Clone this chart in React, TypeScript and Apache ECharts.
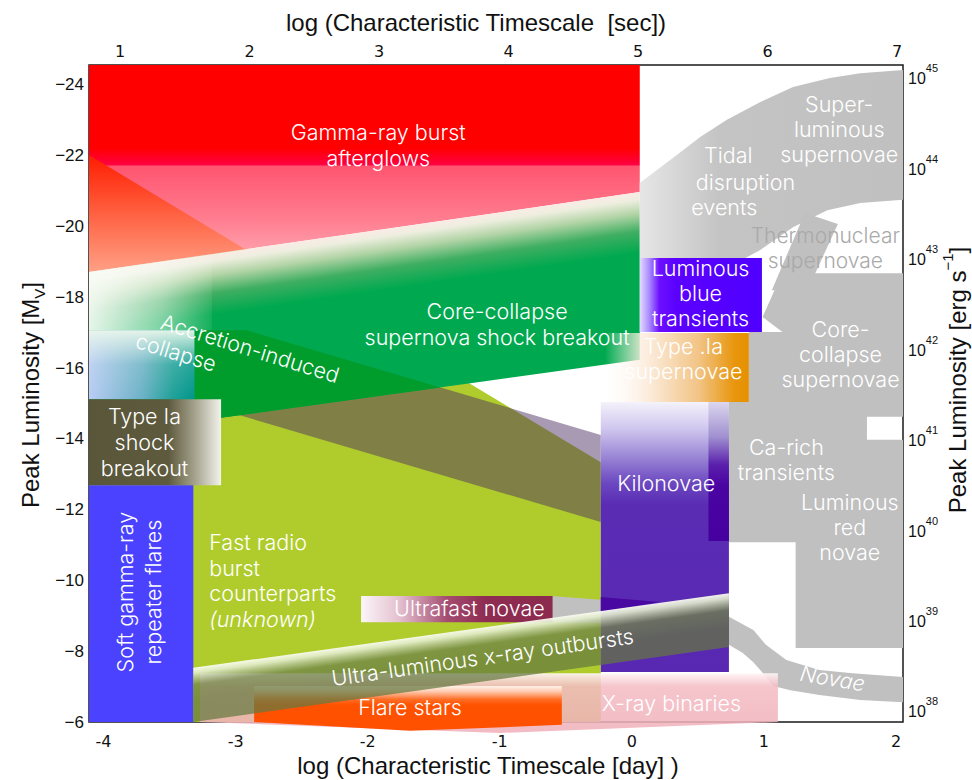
import React, { useEffect, useRef } from "react";
import * as echarts from "echarts";

type Pt = [number, number];

// ---- axes (log day, log sec, M_V, log L) ----
const DAY_TICKS = [-4, -3, -2, -1, 0, 1, 2];
const SEC_TICKS = [1, 2, 3, 4, 5, 6, 7];
const MAG_TICKS = [-24, -22, -20, -18, -16, -14, -12, -10, -8, -6];
const LOGL_TICKS = [38, 39, 40, 41, 42, 43, 44, 45];
const DAY_RANGE = [-4.11, 2.053];
const SEC_RANGE = [0.759, 7.045];
const MAG_RANGE = [-24.56, -6];
const LOGL_RANGE = [37.845, 45.11];

// ---- regions: vertices as [log(timescale / day), peak M_V] ----
const FRB: Pt[] = [[-4.11, -22.02], [-0.235, -13.34], [-0.235, -6], [-4.11, -6]];
const AIC_BAND: Pt[] = [[-3.18, -17.36], [-0.235, -14.11], [-0.235, -11.65], [-3.18, -14.9]];
const GRB: Pt[] = [[-4.11, -24.56], [0.06, -24.56], [0.06, -20.97], [-4.11, -18.71]];
const GRB_FRB: Pt[] = [[-4.11, -22.02], [-2.93, -19.36], [-4.11, -18.71]];
const CC_SHOCK: Pt[] = [[-4.11, -18.71], [0.06, -20.97], [0.06, -16.23], [-3.18, -14.56], [-4.11, -14.56]];
const AIC_FADE: Pt[] = [[-4.11, -18.71], [-3.18, -19.22], [-3.18, -17.07], [-4.11, -17.07]];
const AIC_LEFT: Pt[] = [[-4.11, -17.07], [-3.31, -17.07], [-3.31, -15.12], [-4.11, -15.12]];
const AIC_CC: Pt[] = [[-3.31, -17.07], [-2.92, -17.07], [-1.45, -15.45], [-3.18, -14.56], [-3.31, -14.56]];
const SLSN_TDE: Pt[] = [
  [0.06, -21.23], [0.34, -22.02], [0.52, -22.53], [0.72, -23.01], [0.97, -23.51], [1.22, -23.94],
  [1.5, -24.19], [1.73, -24.33], [2.053, -24.42], [2.053, -20.75], [1.73, -20.66], [1.48, -20.46],
  [1.22, -19.98], [0.97, -19.33], [0.86, -19.11], [0.06, -19.11],
];
const THERMO: Pt[] = [[1.31, -20.38], [1.56, -20.07], [1.33, -18.2], [1.06, -18.2]];
const CCSN: Pt[] = [
  [1.08, -18.2], [1.35, -18.68], [2.053, -18.68], [2.053, -14.62], [1.78, -14.62], [1.78, -13.97],
  [2.053, -13.97], [2.053, -8.09], [1.24, -8.09], [1.24, -11.08], [0.735, -11.08], [0.735, -15.04],
  [0.886, -15.04], [0.886, -17.02], [1.14, -17.02], [0.99, -17.44],
];
const NOVAE: Pt[] = [
  [-0.61, -9.56], [-0.235, -9.45], [0.735, -8.97], [0.92, -8.6], [1.015, -8.18], [1.17, -7.75],
  [1.42, -7.47], [1.67, -7.38], [2.053, -7.27], [2.053, -6.56], [1.73, -6.62], [1.42, -6.76],
  [1.2, -6.9], [1.07, -7.02], [0.985, -7.41], [0.92, -7.69], [0.84, -7.95], [0.735, -8.18],
  [-0.235, -8.8], [-0.61, -8.82],
];
const TYPE_DOT_IA: Pt[] = [[-0.205, -16.99], [0.886, -16.99], [0.886, -15.04], [-0.205, -15.04]];
const LBT: Pt[] = [[0.06, -19.11], [0.985, -19.11], [0.985, -17.02], [0.06, -17.02]];
const KILONOVA: Pt[] = [[-0.235, -15.04], [0.735, -15.04], [0.735, -7.41], [-0.235, -7.41]];
const KN_CARICH: Pt[] = [[0.58, -15.04], [0.735, -15.04], [0.735, -11.11], [0.58, -11.11]];
const KN_NOVAE: Pt[] = [[-0.235, -9.53], [0.21, -9.39], [-0.235, -9.11]];
const ULTRAFAST: Pt[] = [[-2.05, -9.56], [-0.6, -9.56], [-0.6, -8.82], [-2.05, -8.82]];
const IA_SBO: Pt[] = [[-4.11, -15.12], [-3.11, -15.12], [-3.11, -12.69], [-4.11, -12.69]];
const SGR: Pt[] = [[-4.11, -12.69], [-3.32, -12.69], [-3.32, -6], [-4.11, -6]];
const XRB: Pt[] = [[-3.27, -7.38], [1.106, -7.38], [1.106, -6], [-1.0, -5.69], [-3.27, -6]];
const FLARE: Pt[] = [[-2.86, -7.02], [-0.53, -7.02], [-0.53, -5.92], [-1.68, -5.75], [-2.86, -6]];
const ULX: Pt[] = [[-3.32, -7.53], [0.735, -9.64], [0.735, -8.12], [-3.32, -6]];

// ---- label anchors [log day, M_V] ----
const LABELS: { text: string; at: Pt; look?: string }[] = [
  { text: "Gamma-ray burst\nafterglows", at: [-1.92, -22.3] },
  { text: "Core-collapse\nsupernova shock breakout", at: [-1.02, -17.23] },
  { text: "Accretion-induced", at: [-2.89, -16.56], look: "aic" },
  { text: "collapse", at: [-3.45, -16.45], look: "aic" },
  { text: "Type Ia\nshock\nbreakout", at: [-3.69, -13.91] },
  { text: "Soft gamma-ray\nrepeater flares", at: [-3.73, -9.67], look: "vertical" },
  { text: "Fast radio\nburst\ncounterparts\n{i|(unknown)}", at: [-3.2, -10.0], look: "left" },
  { text: "Ultrafast novae", at: [-1.23, -9.22], look: "single" },
  { text: "Ultra-luminous x-ray outbursts", at: [-1.13, -7.84], look: "ulx" },
  { text: "Flare stars", at: [-1.68, -6.42], look: "single" },
  { text: "X-ray binaries", at: [0.3, -6.54], look: "single" },
  { text: "Kilonovae", at: [0.26, -12.75], look: "single" },
  { text: "Ca-rich\ntransients", at: [1.17, -13.42], look: "tight" },
  { text: "Luminous\nred\nnovae", at: [1.65, -11.51], look: "tight" },
  { text: "Core-\ncollapse\nsupernovae", at: [1.58, -16.4], look: "tight" },
  { text: "Super-\nluminous\nsupernovae", at: [1.57, -22.75], look: "tight" },
  { text: "Tidal", at: [0.73, -22.02], look: "single" },
  { text: "disruption", at: [0.86, -21.25], look: "single" },
  { text: "events", at: [0.7, -20.55], look: "single" },
  { text: "Thermonuclear\nsupernovae", at: [1.465, -19.4], look: "grey" },
  { text: "Luminous\nblue\ntransients", at: [0.52, -18.12], look: "tight" },
  { text: "Type .Ia\nsupernovae", at: [0.39, -16.28], look: "tight" },
  { text: "Novae", at: [1.52, -7.24], look: "novae" },
];

// ---- styles ----
const FONT = "Liberation Sans, Arial, sans-serif";
const LIGHT_FONT = "Inter, Open Sans, Liberation Sans, sans-serif";
const TICK_FONT = "DejaVu Sans, sans-serif";

type Fill =
  | { kind: "solid"; color: string }
  | { kind: "h" | "v"; stops: [number, string][] }
  | { kind: "edge"; len: number; stops: [number, string][] };

const FILLS: Record<string, Fill> = {
  frb: { kind: "solid", color: "#b0cc2c" },
  aicBand: { kind: "solid", color: "rgba(77,49,97,0.49)" },
  grb: { kind: "v", stops: [[0, "#ff0000"], [0.4, "#ff0000"], [0.48, "#ff0040"], [0.49, "#ff5570"], [0.75, "#ff7e90"], [1, "#ffb4bd"]] },
  grbFrb: { kind: "v", stops: [[0, "#ff1c00"], [0.45, "#ff5a3a"], [1, "#ffa086"]] },
  ccShock: { kind: "edge", len: 60, stops: [[0, "#f9ece6"], [0.12, "#eeeedf"], [0.35, "#b2d4a6"], [0.65, "#3fae62"], [1, "#00a94f"]] },
  aicFade: { kind: "h", stops: [[0, "rgba(248,252,246,0.92)"], [0.6, "rgba(248,252,246,0.5)"], [1, "rgba(248,252,246,0.08)"]] },
  aicLeft: { kind: "h", stops: [[0, "#b8ccf4"], [0.5, "#6cb2c6"], [0.8, "#1ea098"], [1, "#00968a"]] },
  aicLeftTop: { kind: "v", stops: [[0, "rgba(236,248,236,0.95)"], [0.5, "rgba(236,248,236,0.15)"], [1, "rgba(236,248,236,0)"]] },
  aicCC: { kind: "solid", color: "#009c2c" },
  slsn: { kind: "h", stops: [[0, "#e6e6e6"], [0.3, "#c4c4c4"], [1, "#c0c0c0"]] },
  grey: { kind: "solid", color: "#c0c0c0" },
  typeDotIa: { kind: "h", stops: [[0, "rgba(255,250,244,0)"], [0.3, "#fcecdc"], [0.65, "#f2c486"], [0.9, "#e8960c"], [1, "#e69000"]] },
  lbt: { kind: "h", stops: [[0, "#e4dcff"], [0.08, "#a888ff"], [0.16, "#6e10ff"], [0.3, "#5a00ff"], [1, "#5000ff"]] },
  kn: { kind: "v", stops: [[0, "#f4f2fb"], [0.1, "#cfc6ee"], [0.2, "#9c88d6"], [0.3, "#6c48c0"], [0.38, "#5a2cb4"], [1, "#5928b2"]] },
  knCa: { kind: "v", stops: [[0, "#dcd6ee"], [0.25, "#a090d0"], [0.45, "#5a20ac"], [0.6, "#4a04a2"], [1, "#4600a0"]] },
  knNovae: { kind: "solid", color: "#4a08a2" },
  ufn: { kind: "h", stops: [[0, "#fbf6f8"], [0.2, "#e4c0cf"], [0.45, "#a44c70"], [0.65, "#8f2c52"], [1, "#8c2a4e"]] },
  iaSbo: { kind: "h", stops: [[0, "#5a5639"], [0.6, "#5e5a3e"], [0.8, "#a4a28c"], [1, "#f3f3ed"]] },
  sgr: { kind: "solid", color: "#4a42ff" },
  xrb: { kind: "v", stops: [[0, "rgba(255,246,246,0.92)"], [0.22, "rgba(244,188,196,0.86)"], [1, "rgba(240,176,186,0.86)"]] },
  flare: { kind: "v", stops: [[0, "#fff2ea"], [0.12, "#ffcdb4"], [0.3, "#ff6e26"], [0.42, "#ff5200"], [1, "#ff5000"]] },
  ulx: { kind: "edge", len: 34, stops: [[0, "rgba(250,252,242,0.95)"], [0.15, "rgba(226,236,204,0.9)"], [0.5, "rgba(112,132,72,0.76)"], [1, "rgba(100,120,64,0.72)"]] },
};

const SHAPES: { pts: Pt[]; fill: string }[] = [
  { pts: FRB, fill: "frb" },
  { pts: AIC_BAND, fill: "aicBand" },
  { pts: GRB, fill: "grb" },
  { pts: GRB_FRB, fill: "grbFrb" },
  { pts: CC_SHOCK, fill: "ccShock" },
  { pts: AIC_FADE, fill: "aicFade" },
  { pts: AIC_LEFT, fill: "aicLeft" },
  { pts: AIC_LEFT, fill: "aicLeftTop" },
  { pts: AIC_CC, fill: "aicCC" },
  { pts: SLSN_TDE, fill: "slsn" },
  { pts: THERMO, fill: "grey" },
  { pts: CCSN, fill: "grey" },
  { pts: NOVAE, fill: "grey" },
  { pts: TYPE_DOT_IA, fill: "typeDotIa" },
  { pts: LBT, fill: "lbt" },
  { pts: KILONOVA, fill: "kn" },
  { pts: KN_CARICH, fill: "knCa" },
  { pts: KN_NOVAE, fill: "knNovae" },
  { pts: ULTRAFAST, fill: "ufn" },
  { pts: IA_SBO, fill: "iaSbo" },
  { pts: SGR, fill: "sgr" },
  { pts: XRB, fill: "xrb" },
  { pts: FLARE, fill: "flare" },
  { pts: ULX, fill: "ulx" },
];

const LOOKS: Record<string, any> = {
  base: { size: 21.5, lineHeight: 26, color: "#ffffff", align: "center", rotation: 0, italic: false },
  single: { lineHeight: 22 },
  aic: { rotation: -0.3, lineHeight: 22 },
  vertical: { rotation: Math.PI / 2, lineHeight: 28 },
  left: { align: "left", lineHeight: 25.5 },
  ulx: { rotation: 0.14, lineHeight: 22 },
  tight: { lineHeight: 25 },
  grey: { color: "#a9a9a9", lineHeight: 25, size: 21 },
  novae: { rotation: -0.17, italic: true, lineHeight: 22 },
};

function toStops(stops: [number, string][]) {
  return stops.map(([offset, color]) => ({ offset, color }));
}

function makeFill(key: string, pts: number[][]): any {
  const f = FILLS[key];
  if (f.kind === "solid") return f.color;
  if (f.kind === "h") return { type: "linear", x: 0, y: 0, x2: 1, y2: 0, colorStops: toStops(f.stops) };
  if (f.kind === "v") return { type: "linear", x: 0, y: 0, x2: 0, y2: 1, colorStops: toStops(f.stops) };
  const a = pts[0];
  const b = pts[1];
  const dx = b[0] - a[0];
  const dy = b[1] - a[1];
  const l = Math.hypot(dx, dy) || 1;
  let nx = -dy / l;
  let ny = dx / l;
  if (ny < 0) {
    nx = -nx;
    ny = -ny;
  }
  return {
    type: "linear",
    x: a[0],
    y: a[1],
    x2: a[0] + nx * f.len,
    y2: a[1] + ny * f.len,
    global: true,
    colorStops: toStops(f.stops),
  };
}

export default function App() {
  const ref = useRef<HTMLDivElement>(null);

  useEffect(() => {
    if (!ref.current) return;
    const chart = echarts.init(ref.current, undefined, { renderer: "svg" });

    const axisText = { color: "#111", fontFamily: TICK_FONT, fontSize: 16 };

    const option: any = {
      animation: false,
      backgroundColor: "#ffffff",
      grid: {
        left: 89,
        top: 65,
        width: 814,
        height: 657,
        show: true,
        borderColor: "#1a1a1a",
        borderWidth: 1.5,
        backgroundColor: "transparent",
      },
      xAxis: [
        {
          type: "value",
          position: "bottom",
          min: DAY_RANGE[0],
          max: DAY_RANGE[1],
          axisLine: { show: false },
          axisTick: { show: false },
          splitLine: { show: false },
          axisLabel: { ...axisText, margin: 11, customValues: DAY_TICKS, formatter: (v: number) => String(v) },
        },
        {
          type: "value",
          position: "top",
          min: SEC_RANGE[0],
          max: SEC_RANGE[1],
          axisLine: { show: false },
          axisTick: { show: false },
          splitLine: { show: false },
          axisLabel: { ...axisText, margin: 6, customValues: SEC_TICKS, formatter: (v: number) => String(v) },
        },
      ],
      yAxis: [
        {
          type: "value",
          position: "left",
          inverse: true,
          min: MAG_RANGE[0],
          max: MAG_RANGE[1],
          axisLine: { show: false },
          axisTick: { show: false },
          splitLine: { show: false },
          axisLabel: {
            color: "#111",
            fontFamily: FONT,
            fontSize: 17,
            margin: 5,
            customValues: MAG_TICKS,
            formatter: (v: number) => (v < 0 ? "\u2212" + Math.abs(v) : String(v)),
          },
        },
        {
          type: "value",
          position: "right",
          min: LOGL_RANGE[0],
          max: LOGL_RANGE[1],
          axisLine: { show: false },
          axisTick: { show: false },
          splitLine: { show: false },
          axisLabel: {
            margin: 5,
            color: "#111",
            fontSize: 16,
            fontFamily: FONT,
            customValues: LOGL_TICKS,
            formatter: (v: number) => `{b|10}{s|${v}}`,
            rich: {
              b: { fontSize: 16, fontFamily: FONT, color: "#111", lineHeight: 24, verticalAlign: "bottom" },
              s: { fontSize: 11, fontFamily: FONT, color: "#111", lineHeight: 11, verticalAlign: "top" },
            },
          },
        },
      ],
      series: [
        {
          type: "custom",
          name: "regions",
          coordinateSystem: "cartesian2d",
          xAxisIndex: 0,
          yAxisIndex: 0,
          clip: false,
          silent: true,
          z: 2,
          data: SHAPES.map((_, i) => [i]),
          renderItem: (_params: any, api: any) => {
            const s = SHAPES[api.value(0)];
            const pts = s.pts.map((p) => api.coord(p));
            return {
              type: "polygon",
              silent: true,
              shape: { points: pts },
              style: { fill: makeFill(s.fill, pts), stroke: "none" },
            };
          },
        },
        {
          type: "custom",
          name: "labels",
          coordinateSystem: "cartesian2d",
          xAxisIndex: 0,
          yAxisIndex: 0,
          clip: false,
          silent: true,
          z: 3,
          data: LABELS.map((_, i) => [i]),
          renderItem: (_params: any, api: any) => {
            const L = LABELS[api.value(0)];
            const look = { ...LOOKS.base, ...(L.look ? LOOKS[L.look] : {}) };
            const [x, y] = api.coord(L.at);
            return {
              type: "text",
              x,
              y,
              rotation: look.rotation,
              silent: true,
              style: {
                text: L.text,
                fill: look.color,
                fontSize: look.size,
                fontFamily: LIGHT_FONT,
                fontWeight: 300,
                fontStyle: look.italic ? "italic" : "normal",
                align: look.align,
                verticalAlign: "middle",
                lineHeight: look.lineHeight,
                rich: {
                  i: {
                    fontStyle: "italic",
                    fontWeight: 300,
                    fill: look.color,
                    fontSize: look.size,
                    fontFamily: LIGHT_FONT,
                    lineHeight: look.lineHeight,
                  },
                },
              },
            };
          },
        },
      ],
      graphic: [
        {
          type: "text",
          x: 476,
          y: 22,
          silent: true,
          style: {
            text: "log (Characteristic Timescale  [sec])",
            fill: "#111",
            fontSize: 24,
            fontFamily: FONT,
            align: "center",
            verticalAlign: "middle",
          },
        },
        {
          type: "text",
          x: 488,
          y: 765,
          silent: true,
          style: {
            text: "log (Characteristic Timescale [day] )",
            fill: "#111",
            fontSize: 24,
            fontFamily: FONT,
            align: "center",
            verticalAlign: "middle",
          },
        },
        {
          type: "text",
          x: 30,
          y: 395,
          rotation: Math.PI / 2,
          silent: true,
          style: {
            text: "{a|Peak Luminosity [M}{s|V}{a|]}",
            align: "center",
            verticalAlign: "middle",
            rich: {
              a: { fontSize: 24, fontFamily: FONT, fill: "#111", lineHeight: 34 },
              s: { fontSize: 15, fontFamily: FONT, fill: "#111", lineHeight: 15, verticalAlign: "bottom" },
            },
          },
        },
        {
          type: "text",
          x: 957,
          y: 380,
          rotation: Math.PI / 2,
          silent: true,
          style: {
            text: "{a|Peak Luminosity [erg s}{s|\u22121}{a|]}",
            align: "center",
            verticalAlign: "middle",
            rich: {
              a: { fontSize: 24, fontFamily: FONT, fill: "#111", lineHeight: 34 },
              s: { fontSize: 15, fontFamily: FONT, fill: "#111", lineHeight: 15, verticalAlign: "top" },
            },
          },
        },
      ],
    };

    chart.setOption(option);
    return () => chart.dispose();
  }, []);

  return <div ref={ref} style={{ position: "absolute", left: 0, top: 0, width: 972, height: 780 }} />;
}
